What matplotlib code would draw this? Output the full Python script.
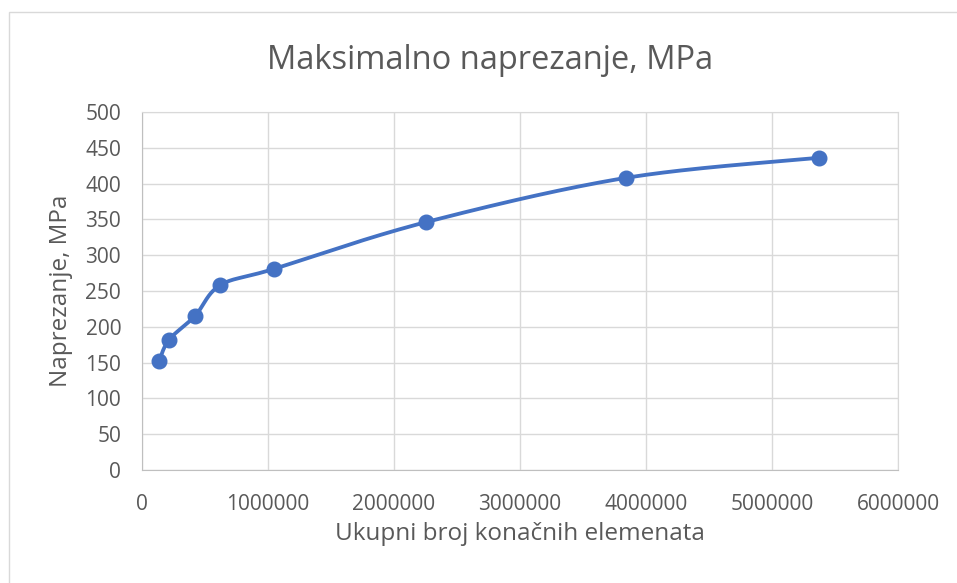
import matplotlib.pyplot as plt
import numpy as np
from matplotlib.patches import Rectangle

# broj elemenata i maksimalno naprezanje
elements = [135000, 215000, 420000, 620000, 1050000, 2250000, 3840000, 5370000]
stress = [152, 182, 215, 258, 281, 346, 408, 436]

title = 'Maksimalno naprezanje, MPa'
xlabel = 'Ukupni broj konačnih elemenata'
ylabel = 'Naprezanje, MPa'

text_col = '#595959'
grid_col = '#d9d9d9'
blue = '#4472C4'

plt.rcParams['font.family'] = ['Open Sans', 'DejaVu Sans']

fig = plt.figure(figsize=(9.57, 5.83), dpi=100)
ax = fig.add_axes([142/957, 1-470/583, (898-142)/957, (470-112)/583])

xmax, ymax = 6000000, 500
# axes size in pixels, for smoothing in screen space
w_px, h_px = 898-142, 470-112


def excel_smooth(xs, ys, n=40):
    # bezier through points, control points from neighbours (like Excel)
    px = np.array(xs) / xmax * w_px
    py = np.array(ys) / ymax * h_px
    P = np.column_stack([px, py])
    out = []
    for i in range(len(P) - 1):
        p0 = P[i - 1] if i > 0 else P[i]
        p1, p2 = P[i], P[i + 1]
        p3 = P[i + 2] if i + 2 < len(P) else P[i + 1]
        c1 = p1 + (p2 - p0) / 6
        c2 = p2 - (p3 - p1) / 6
        t = np.linspace(0, 1, n)[:, None]
        seg = (1-t)**3*p1 + 3*(1-t)**2*t*c1 + 3*(1-t)*t**2*c2 + t**3*p2
        out.append(seg)
    c = np.vstack(out)
    return c[:, 0] / w_px * xmax, c[:, 1] / h_px * ymax


sx, sy = excel_smooth(elements, stress)
ax.plot(sx, sy, color=blue, lw=2.75, solid_capstyle='round', zorder=3)
ax.plot(elements, stress, 'o', color=blue, ms=10.5, zorder=4)

ax.set_xlim(0, xmax)
ax.set_ylim(0, ymax)
ax.set_xticks(np.arange(0, xmax + 1, 1000000))
ax.set_yticks(np.arange(0, ymax + 1, 50))
ax.set_xticklabels([str(v) for v in range(0, xmax + 1, 1000000)])
ax.grid(True, color=grid_col, lw=1)
ax.set_axisbelow(True)
for s in ax.spines.values():
    s.set_color(grid_col)
ax.spines['left'].set_color('#bfbfbf')
ax.spines['bottom'].set_color('#bfbfbf')
ax.tick_params(length=0, colors=text_col, labelsize=15)
ax.tick_params(axis='y', pad=15)
ax.tick_params(axis='x', pad=17)

fig.text(490/957, 1 - 69/583, title, color=text_col, fontsize=23.5,
         ha='center', va='baseline')
ax.set_xlabel(xlabel, color=text_col, fontsize=17.5, labelpad=5)
ax.set_ylabel(ylabel, color=text_col, fontsize=17.5, labelpad=9)

# chart border
fig.patches.append(Rectangle((9/957, -0.1), 1.1, 1 - 12/583 + 0.1,
                             transform=fig.transFigure, fill=False,
                             edgecolor=grid_col, lw=1))

fig.savefig('out.png', dpi=100)
